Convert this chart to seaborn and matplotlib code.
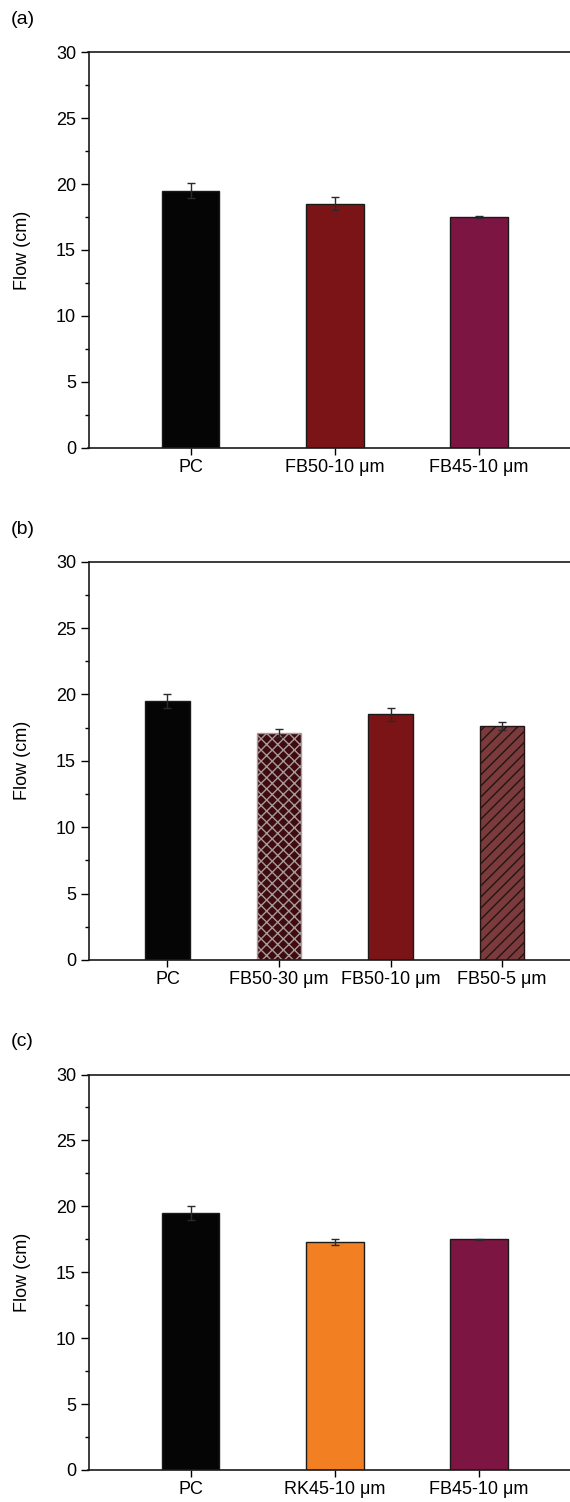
import matplotlib
matplotlib.use("Agg")
import matplotlib.pyplot as plt
from matplotlib.ticker import MultipleLocator
import seaborn as sns
import pandas as pd

sns.set_style("white")
plt.rcParams["font.family"] = ["Liberation Sans", "DejaVu Sans"]
plt.rcParams["hatch.linewidth"] = 1.0
for key in ["text.color", "axes.labelcolor", "xtick.color", "ytick.color"]:
    plt.rcParams[key] = "black"

# Panel (a)
cats_a = ["PC", "FB50-10 μm", "FB45-10 μm"]
flow_a = [19.5, 18.5, 17.5]
err_a = [0.55, 0.5, 0.05]
colors_a = ["#050505", "#7a1416", "#7c1541"]
hatch_a = [None, None, None]

# Panel (b)
cats_b = ["PC", "FB50-30 μm", "FB50-10 μm", "FB50-5 μm"]
flow_b = [19.5, 17.1, 18.5, 17.6]
err_b = [0.55, 0.3, 0.5, 0.3]
colors_b = ["#050505", "#3e0c10", "#7a1416", "#7b3a3c"]
hatch_b = [None, "xxx", None, "///"]

# Panel (c)
cats_c = ["PC", "RK45-10 μm", "FB45-10 μm"]
flow_c = [19.5, 17.3, 17.5]
err_c = [0.55, 0.25, 0.05]
colors_c = ["#050505", "#f28022", "#7c1541"]
hatch_c = [None, None, None]

W, H = 570, 1502
fig = plt.figure(figsize=(W / 100, H / 100), dpi=100)
AX_LEFT, AX_RIGHT = 88.5, 581


def panel(rect, cats, vals, errs, colors, hatches, tag, tag_y):
    ax = fig.add_axes(rect)
    df = pd.DataFrame({"cat": cats, "flow": vals})
    sns.barplot(data=df, x="cat", y="flow", hue="cat", palette=colors,
                saturation=1, legend=False, width=0.4, edgecolor="#1a1a1a",
                linewidth=1.0, ax=ax, errorbar=None)
    for p, h in zip(ax.patches, hatches):
        if h is None:
            continue
        p.set_hatch(h)
        if "x" in h:
            p.set_edgecolor("#a89a9a")
        else:
            p.set_edgecolor("#241414")
    ax.errorbar(range(len(cats)), vals, yerr=errs, fmt="none",
                ecolor="#2a2a2a", elinewidth=1.0, capsize=3.2, capthick=1.0,
                zorder=5)
    n = len(cats)
    ax.set_xlim(-0.708, n - 1 + 0.708)
    ax.set_ylim(0, 30)
    ax.yaxis.set_major_locator(MultipleLocator(5))
    ax.yaxis.set_minor_locator(MultipleLocator(2.5))
    ax.tick_params(axis="y", which="major", direction="out", length=5.5,
                   width=1.0, labelsize=13, left=True, pad=3.5)
    ax.tick_params(axis="y", which="minor", direction="out", length=3,
                   width=1.0, left=True)
    ax.tick_params(axis="x", which="major", direction="out", length=5,
                   width=1.0, labelsize=13, bottom=True, pad=3)
    ax.set_xlabel("")
    ax.set_ylabel("Flow (cm)", fontsize=13)
    ax.yaxis.set_label_coords((31 - AX_LEFT) / (AX_RIGHT - AX_LEFT), 0.5)
    for s in ["left", "bottom", "top"]:
        ax.spines[s].set_visible(True)
        ax.spines[s].set_color("#1a1a1a")
        ax.spines[s].set_linewidth(1.2)
    ax.spines["right"].set_visible(False)
    fig.text(11 / W, 1 - tag_y / H, tag, fontsize=14, va="center", ha="left")
    return ax


def rect(top_px, bottom_px):
    return [AX_LEFT / W, 1 - bottom_px / H,
            (AX_RIGHT - AX_LEFT) / W, (bottom_px - top_px) / H]


panel(rect(52.3, 447.7), cats_a, flow_a, err_a, colors_a, hatch_a,
      "(a)", 20)
panel(rect(561.7, 960.0), cats_b, flow_b, err_b, colors_b, hatch_b,
      "(b)", 530)
panel(rect(1074.5, 1470.0), cats_c, flow_c, err_c, colors_c, hatch_c,
      "(c)", 1041)

fig.savefig("out.png", dpi=100)
